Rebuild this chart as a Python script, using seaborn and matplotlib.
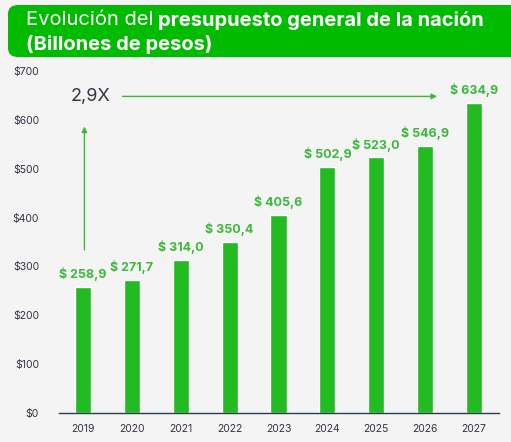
import matplotlib
matplotlib.use("Agg")
import matplotlib.pyplot as plt
import seaborn as sns
import pandas as pd
from matplotlib.patches import FancyBboxPatch

years = ["2019", "2020", "2021", "2022", "2023", "2024", "2025", "2026", "2027"]
values = [258.9, 271.7, 314.0, 350.4, 405.6, 502.9, 523.0, 546.9, 634.9]
labels = ["$ 258,9", "$ 271,7", "$ 314,0", "$ 350,4", "$ 405,6", "$ 502,9", "$ 523,0", "$ 546,9", "$ 634,9"]
yticks = [0, 100, 200, 300, 400, 500, 600, 700]

sns.set_theme(style="white")
plt.rcParams['font.family'] = ['Inter', 'DejaVu Sans']
BG = "#F4F4F4"
GREEN = "#22BB22"
LGREEN = "#3CB83C"

fig = plt.figure(figsize=(5.11, 4.42), dpi=100, facecolor=BG)
ax = fig.add_axes([58.5/511, 1-413/442, 440/511, 342/442])
ax.set_facecolor(BG)
df = pd.DataFrame({"year": years, "value": values})
sns.barplot(data=df, x="year", y="value", color=GREEN, saturation=1, width=0.33, ax=ax)
ax.set_xlim(-0.5, 8.5)
ax.set_ylim(0, 700)
ax.set_yticks(yticks)
ax.set_yticklabels([f"${v}" for v in yticks], fontsize=7.5, color="#333344")
ax.tick_params(axis='x', labelsize=7.5, colors="#333344", length=0, pad=8)
ax.tick_params(axis='y', length=0, pad=14)
ax.set_xlabel(""); ax.set_ylabel("")
for s in ["top", "right", "left"]:
    ax.spines[s].set_visible(False)
ax.spines["bottom"].set_color("#2A3A55")
ax.spines["bottom"].set_linewidth(1)
for i, (v, l) in enumerate(zip(values, labels)):
    ax.text(i, v + 12, l, ha="center", va="bottom", color=LGREEN, fontsize=9, fontweight="bold")

ax.annotate("", xy=(0.03, 592), xytext=(0.03, 328),
            arrowprops=dict(arrowstyle="-|>", color=LGREEN, lw=1, mutation_scale=8))
ax.annotate("", xy=(7.3, 648), xytext=(0.75, 648),
            arrowprops=dict(arrowstyle="-|>", color=LGREEN, lw=1, mutation_scale=8))
ax.text(0.15, 648, "2,9X", ha="center", va="center", fontsize=13, color="#333344")

banner = FancyBboxPatch((8/511, 1-57/442), 520/511, 52/442, boxstyle="round,pad=0,rounding_size=0.02",
                        transform=fig.transFigure, facecolor="#00BB00", edgecolor="none")
fig.patches.append(banner)
t1 = fig.text(26/511, 1-20/442, "Evolución del", color="white", fontsize=14.5, va="center", ha="left")
fig.canvas.draw()
bb = t1.get_window_extent()
fig.text((bb.x1 + 5)/511, 1-20/442, "presupuesto general de la nación", color="white", fontsize=14.5,
         fontweight="bold", va="center", ha="left")
fig.text(26/511, 1-44/442, "(Billones de pesos)", color="white", fontsize=14.5, fontweight="bold",
         va="center", ha="left")
fig.savefig("out.png", dpi=100, facecolor=BG)
